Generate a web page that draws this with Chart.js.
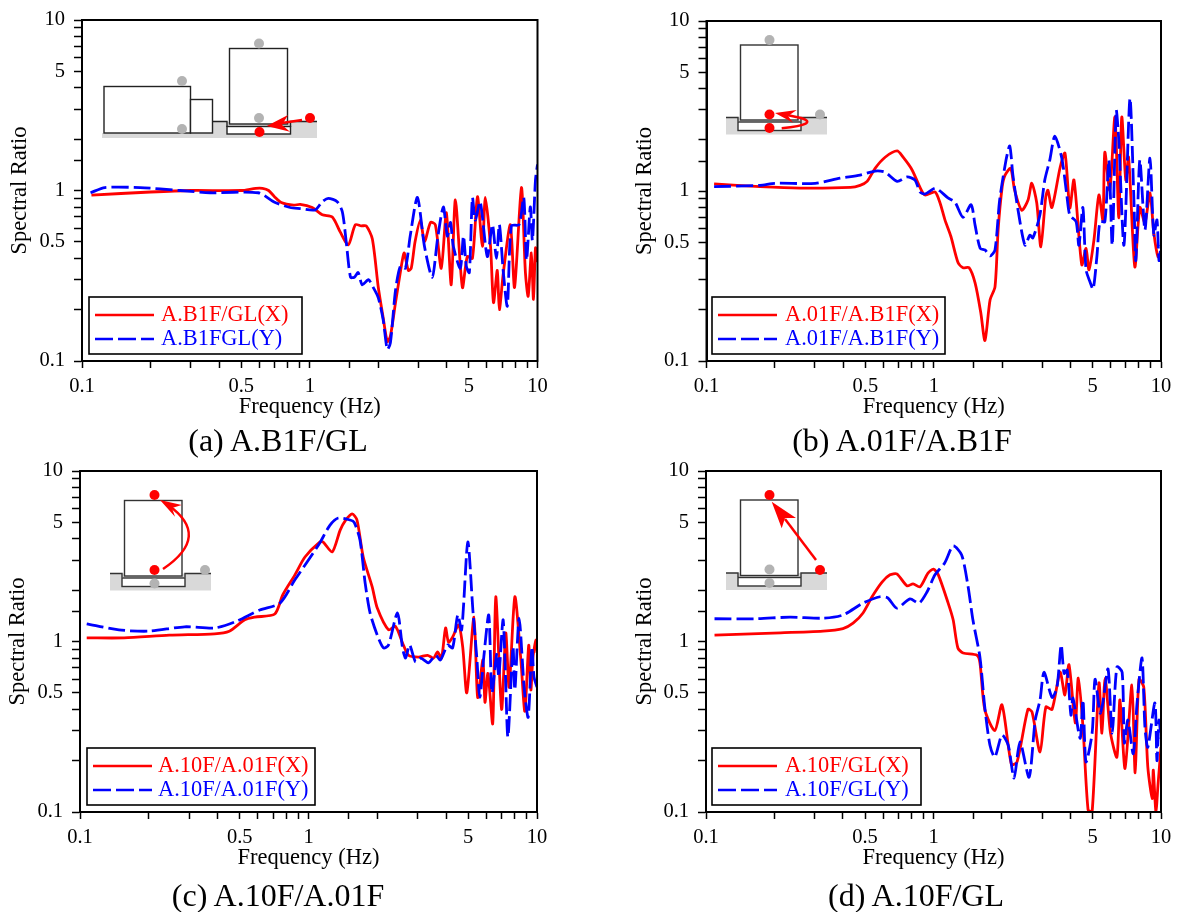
<!DOCTYPE html>
<html>
<head>
<meta charset="utf-8">
<title>Spectral ratios</title>
<script src="https://cdn.jsdelivr.net/npm/chart.js@4/dist/chart.umd.min.js"></script>
<style>
  html, body { margin: 0; padding: 0; background: #fff; }
  #page { position: relative; width: 1177px; height: 912px; overflow: hidden; }
  canvas { position: absolute; }
  .caption { position: absolute; font: 32px 'Liberation Serif', serif; color: #000; white-space: nowrap; transform: translateX(-50%); }
</style>
</head>
<body>
<div id="page">
  <canvas id="chartA" width="588" height="456" style="left:0;top:0"></canvas>
  <canvas id="chartB" width="589" height="456" style="left:588px;top:0"></canvas>
  <canvas id="chartC" width="588" height="456" style="left:0;top:456px"></canvas>
  <canvas id="chartD" width="589" height="456" style="left:588px;top:456px"></canvas>
  <div class="caption" style="left:278px;top:422px">(a) A.B1F/GL</div>
  <div class="caption" style="left:902px;top:422px">(b) A.01F/A.B1F</div>
  <div class="caption" style="left:278px;top:877px">(c) A.10F/A.01F</div>
  <div class="caption" style="left:916px;top:877px">(d) A.10F/GL</div>
</div>
<script>
// [frequency Hz, spectral ratio]
var tickLabels = ['0.1', '0.5', '1', '5', '10'];

var aX = [[.11,.94],[.2,.98],[.3,1],[.5,1],[.58,1.03],[.62,1.03],[.66,1],[.7,.92],[.75,.85],[.85,.82],[.908,.83],[1.025,.795],[1.135,.72],[1.256,.7],[1.362,.57],[1.477,.48],[1.585,.63],[1.684,.62],[1.77,.62],[1.883,.52],[2,.27],[2.1,.18],[2.19,.13],[2.26,.14],[2.38,.22],[2.55,.39],[2.6,.43],[2.71,.34],[2.79,.35],[2.9,.5],[3.06,.67],[3.19,.5],[3.39,.65],[3.56,.63],[3.78,.35],[3.98,.74],[4.18,.28],[4.36,.88],[4.68,.27],[4.92,.41],[5.18,.4],[5.45,.92],[5.73,.47],[5.9,.91],[6.22,.47],[6.41,.22],[6.66,.34],[6.8,.2],[7.08,.33],[7.6,.63],[7.93,.27],[8.5,1.04],[8.85,.33],[9.1,.24],[9.4,.43],[9.6,.23],[9.8,.46],[10,.38]];
var aY = [[.109,.97],[.126,1.04],[.18,1.04],[.27,1],[.365,.97],[.594,.97],[.705,.85],[.82,.795],[.908,.784],[1.057,.77],[1.135,.86],[1.206,.9],[1.32,.86],[1.39,.75],[1.446,.5],[1.51,.31],[1.57,.31],[1.63,.33],[1.7,.28],[1.81,.3],[1.9,.27],[2,.235],[2.1,.175],[2.19,.117],[2.26,.128],[2.38,.26],[2.5,.36],[2.63,.35],[2.76,.54],[2.97,.91],[3.19,.47],[3.45,.31],[3.64,.52],[3.86,.8],[4.02,.54],[4.15,.65],[4.27,.47],[4.58,.35],[4.73,.54],[4.87,.36],[5.02,.33],[5.18,.91],[5.33,.67],[5.6,.86],[6.02,.41],[6.34,.63],[6.6,.4],[6.8,.63],[7.08,.33],[7.37,.21],[7.68,.62],[8.3,.63],[8.7,.91],[8.95,.39],[9.3,.8],[9.5,.51],[9.8,1.16],[10,1.42]];

var bX = [[.108,1.1],[.172,1.06],[.258,1.04],[.43,1.05],[.474,1.08],[.509,1.14],[.552,1.36],[.611,1.58],[.69,1.72],[.733,1.58],[.803,1.33],[.87,1.05],[.915,.947],[1.013,.987],[1.066,.85],[1.12,.676],[1.19,.54],[1.28,.378],[1.345,.354],[1.43,.354],[1.52,.288],[1.61,.193],[1.68,.132],[1.77,.229],[1.86,.273],[1.92,.59],[2,1.055],[2.06,1.24],[2.18,1.36],[2.27,1.01],[2.44,.77],[2.6,.885],[2.7,1.11],[2.84,.85],[2.96,.47],[3.11,.92],[3.18,1.01],[3.31,.8],[3.6,1.38],[3.78,1.67],[3.97,.795],[4.14,1.16],[4.48,.368],[4.68,.46],[4.82,.344],[5.07,.516],[5.33,.947],[5.55,.676],[5.66,1.69],[5.95,1.01],[6.27,2.72],[6.52,.694],[6.72,2.72],[7,1.16],[7.2,1.58],[7.67,.358],[8.07,.8],[8.5,.65],[8.94,.973],[9.3,.567],[9.7,.41],[10,.43]];
var bY = [[.108,1.06],[.172,1.08],[.2,1.11],[.301,1.11],[.387,1.19],[.474,1.24],[.552,1.31],[.611,1.29],[.69,1.14],[.763,1.21],[.827,1.16],[.87,.987],[.915,.96],[1.013,1.04],[1.066,1],[1.155,.91],[1.24,.86],[1.345,.7],[1.46,.83],[1.52,.63],[1.6,.46],[1.68,.45],[1.77,.415],[1.86,.45],[1.95,.885],[2.08,1.52],[2.16,1.84],[2.23,1.24],[2.35,.77],[2.52,.48],[2.65,.55],[2.73,.53],[2.93,.72],[3.08,1.16],[3.24,1.52],[3.41,2.1],[3.66,1.56],[3.85,.947],[3.97,.72],[4.23,.66],[4.35,.48],[4.53,.8],[4.68,.344],[4.88,.29],[5.03,.265],[5.23,.42],[5.39,.66],[5.66,.66],[5.9,1.52],[6.1,.48],[6.35,2.98],[6.52,1.99],[6.87,.48],[7.3,3.5],[7.6,.885],[7.75,.39],[8.07,1.52],[8.5,.59],[8.94,1.56],[9.3,.55],[9.6,.676],[9.8,.39],[10,.48]];

var cX = [[.107,1.05],[.156,1.05],[.246,1.09],[.388,1.11],[.45,1.15],[.526,1.34],[.582,1.39],[.712,1.45],[.772,1.88],[.872,2.46],[.965,3.13],[1.12,3.83],[1.16,3.83],[1.27,3.35],[1.376,4.5],[1.447,5.1],[1.553,5.6],[1.63,5.16],[1.736,3.13],[1.9,2.09],[2,1.57],[2.24,1.17],[2.4,1.23],[2.58,.98],[2.74,.83],[3.03,.81],[3.32,.83],[3.53,.8],[3.67,.87],[3.82,.8],[3.98,1.2],[4.1,.99],[4.27,1.06],[4.54,1.25],[4.73,.93],[4.93,.5],[5.3,1.39],[5.5,.47],[5.8,.78],[5.92,.44],[6.1,.65],[6.4,.33],[6.6,1.83],[7,.4],[7.3,1.12],[7.55,.54],[8,1.83],[8.5,.78],[8.85,.39],[9.2,.95],[9.4,.52],[9.6,.81],[9.9,1.02],[10,.856]];
var cY = [[.107,1.27],[.148,1.17],[.2,1.15],[.287,1.22],[.388,1.2],[.475,1.3],[.612,1.53],[.75,1.68],[.872,2.3],[1.015,3.1],[1.12,3.78],[1.24,4.8],[1.35,5.3],[1.52,5.16],[1.585,5],[1.68,3.94],[1.77,2.2],[1.86,1.47],[2,1.09],[2.13,.916],[2.24,.954],[2.45,1.47],[2.58,.916],[2.66,.8],[2.77,.954],[2.94,.76],[3.1,.8],[3.35,.75],[3.6,.83],[3.78,.78],[4.06,.954],[4.27,.916],[4.5,1.43],[4.68,1.17],[4.98,3.83],[5.24,1.53],[5.45,.81],[5.62,.47],[5.85,.81],[6.15,1.43],[6.35,.5],[6.67,.856],[6.8,.62],[7.1,1.34],[7.25,.75],[7.46,.275],[7.85,.93],[8,.52],[8.35,1.37],[8.8,.52],[9.15,.36],[9.5,.93],[9.7,.62],[10,.54]];

var dX = [[.109,1.09],[.197,1.12],[.327,1.15],[.4,1.19],[.443,1.28],[.49,1.47],[.537,1.83],[.594,2.23],[.644,2.46],[.69,2.49],[.765,2.12],[.813,2.18],[.872,2.09],[.946,2.52],[1,2.66],[1.05,2.46],[1.16,1.68],[1.22,1.34],[1.28,.916],[1.35,.856],[1.553,.83],[1.6,.75],[1.68,.4],[1.86,.3],[2,.425],[2.2,.19],[2.33,.197],[2.6,.4],[2.71,.386],[2.94,.225],[3.12,.413],[3.32,.4],[3.6,.66],[3.78,.486],[3.94,.73],[4.2,.333],[4.33,.61],[4.54,.315],[4.78,.103],[4.98,.1],[5.34,.57],[5.5,.29],[5.68,.61],[6,.29],[6.4,.21],[6.6,.455],[6.95,.18],[7.45,.556],[7.7,.17],[8,.6],[8.4,.54],[8.75,.184],[9.15,.12],[9.25,.176],[9.5,.1],[9.7,.144],[10,.24]];
var dY = [[.109,1.36],[.168,1.36],[.234,1.39],[.327,1.37],[.4,1.43],[.49,1.68],[.582,1.83],[.63,1.8],[.69,1.57],[.788,1.78],[.863,1.68],[.936,1.95],[1.015,2.46],[1.12,2.89],[1.22,3.63],[1.33,3.22],[1.42,2.09],[1.49,1.34],[1.6,.81],[1.68,.413],[1.77,.247],[1.86,.21],[2,.283],[2.13,.247],[2.26,.158],[2.4,.258],[2.63,.16],[2.8,.346],[2.94,.454],[3.06,.66],[3.32,.47],[3.49,.54],[3.64,.954],[3.75,.65],[3.87,.68],[4.02,.37],[4.1,.466],[4.41,.27],[4.54,.454],[4.68,.197],[4.98,.29],[5.13,.6],[5.4,.38],[5.55,.436],[5.85,.69],[6.1,.29],[6.4,.71],[6.75,.66],[6.9,.254],[7.15,.346],[7.55,.22],[7.85,.436],[8.25,.8],[8.5,.315],[8.75,.24],[9.4,.436],[9.6,.2],[9.8,.346],[10,.27]];

var RED = '#ff0000';
var BLUE = '#0000ff';
var GREY = '#b3b3b3';
var GROUND = '#d9d9d9';
var SERIF = "'Liberation Serif', serif";
var X_AXIS_HEIGHT = 60;

function dot(ctx, x, y, color) {
  ctx.fillStyle = color;
  ctx.beginPath();
  ctx.arc(x, y, 5, 0, Math.PI * 2);
  ctx.fill();
}

function poly(ctx, pts, color) {
  ctx.fillStyle = color;
  ctx.beginPath();
  pts.forEach(function (p, i) { if (i) ctx.lineTo(p[0], p[1]); else ctx.moveTo(p[0], p[1]); });
  ctx.closePath();
  ctx.fill();
}

function box(ctx, x0, y0, x1, y1) {
  ctx.fillStyle = '#fff';
  ctx.fillRect(x0, y0, x1 - x0, y1 - y0);
  ctx.strokeRect(x0, y0, x1 - x0, y1 - y0);
}

// ground with sunken basement, shared by the single tower sketches
function tower(ctx, xl, baseTop, top) {
  ctx.fillStyle = GROUND;
  ctx.fillRect(xl, baseTop, 101, 17);
  ctx.strokeStyle = '#333';
  ctx.lineWidth = 1.4;
  box(ctx, xl + 12, baseTop + 4.5, xl + 75, baseTop + 13);
  ctx.beginPath();
  ctx.moveTo(xl, baseTop);
  ctx.lineTo(xl + 12, baseTop);
  ctx.lineTo(xl + 12, baseTop + 4);
  ctx.moveTo(xl + 75, baseTop + 4);
  ctx.lineTo(xl + 75, baseTop);
  ctx.lineTo(xl + 101, baseTop);
  ctx.stroke();
  box(ctx, xl + 14.5, top, xl + 72, baseTop + 2.5);
}

var sketches = {
  a: function (ctx) {
    ctx.fillStyle = GROUND;
    ctx.fillRect(102, 133, 215, 5);
    ctx.fillRect(212, 122, 105, 12);
    ctx.strokeStyle = '#222';
    ctx.lineWidth = 1.4;
    box(ctx, 104, 86.5, 190.5, 133);
    box(ctx, 190.5, 99.5, 212.5, 133);
    box(ctx, 227, 126.5, 290.5, 134);
    ctx.beginPath();
    ctx.moveTo(212.5, 121.5);
    ctx.lineTo(227, 121.5);
    ctx.lineTo(227, 127);
    ctx.moveTo(290.5, 127);
    ctx.lineTo(290.5, 121.5);
    ctx.lineTo(317, 121.5);
    ctx.stroke();
    box(ctx, 229.5, 48.5, 287.5, 124);
    dot(ctx, 182, 81, GREY);
    dot(ctx, 182, 129, GREY);
    dot(ctx, 259, 43.5, GREY);
    dot(ctx, 259, 118, GREY);
    dot(ctx, 259.5, 132, RED);
    dot(ctx, 310, 118, RED);
    ctx.strokeStyle = RED;
    ctx.lineWidth = 2.5;
    ctx.beginPath();
    ctx.moveTo(302, 120);
    ctx.lineTo(275, 124);
    ctx.stroke();
    poly(ctx, [[266.7, 126], [288, 115], [282, 125], [290, 131.7]], RED);
  },
  b: function (ctx) {
    tower(ctx, 726, 117.5, 45);
    dot(ctx, 769.5, 40, GREY);
    dot(ctx, 820, 114.5, GREY);
    dot(ctx, 769.5, 114.5, RED);
    dot(ctx, 769.5, 128, RED);
    ctx.strokeStyle = RED;
    ctx.lineWidth = 2.4;
    ctx.beginPath();
    ctx.moveTo(781.7, 128.3);
    ctx.quadraticCurveTo(820, 124, 801, 118);
    ctx.lineTo(787, 115);
    ctx.stroke();
    poly(ctx, [[775, 113], [796.7, 110], [788, 116], [793, 122.7]], RED);
  },
  c: function (ctx) {
    tower(ctx, 110, 573.5, 500.5);
    dot(ctx, 154.5, 495, RED);
    dot(ctx, 154.5, 570, RED);
    dot(ctx, 154.5, 583.5, GREY);
    dot(ctx, 205, 570, GREY);
    ctx.strokeStyle = RED;
    ctx.lineWidth = 2.5;
    ctx.beginPath();
    ctx.moveTo(163, 569);
    ctx.quadraticCurveTo(212, 536, 168, 505);
    ctx.stroke();
    poly(ctx, [[160, 500], [181.7, 505], [172, 508], [175, 516.7]], RED);
  },
  d: function (ctx) {
    tower(ctx, 726, 573, 500);
    dot(ctx, 769.5, 495, RED);
    dot(ctx, 820, 570, RED);
    dot(ctx, 769.5, 569.5, GREY);
    dot(ctx, 769.5, 583, GREY);
    ctx.strokeStyle = RED;
    ctx.lineWidth = 2.5;
    ctx.beginPath();
    ctx.moveTo(816, 560);
    ctx.lineTo(785, 519);
    ctx.stroke();
    poly(ctx, [[771.7, 501.7], [796, 518], [785, 518], [781.7, 528.3]], RED);
  }
};

// plot frame, building sketch and boxed legend, all over the data
var panelDecor = {
  id: 'panelDecor',
  afterDatasetsDraw: function (chart, args, opts) {
    var ctx = chart.ctx;
    var area = chart.chartArea;
    ctx.save();
    ctx.strokeStyle = '#000';
    ctx.lineWidth = 2;
    ctx.strokeRect(area.left, area.top, area.right - area.left, area.bottom - area.top);
    ctx.translate(-opts.originX, -opts.originY);
    sketches[opts.sketch](ctx);

    var lg = opts.legend;
    ctx.fillStyle = '#fff';
    ctx.strokeStyle = '#000';
    ctx.lineWidth = 1.6;
    ctx.fillRect(lg.x0, lg.y0, lg.x1 - lg.x0, lg.y1 - lg.y0);
    ctx.strokeRect(lg.x0, lg.y0, lg.x1 - lg.x0, lg.y1 - lg.y0);
    ctx.font = '22.4px ' + SERIF;
    ctx.textBaseline = 'middle';
    chart.data.datasets.forEach(function (ds, i) {
      var y = lg.y0 + (i === 0 ? 18 : 42);
      ctx.strokeStyle = ds.borderColor;
      ctx.lineWidth = 2.6;
      ctx.setLineDash(i === 0 ? [] : [18, 5]);
      ctx.beginPath();
      ctx.moveTo(lg.x0 + 6, y);
      ctx.lineTo(lg.x0 + 65, y);
      ctx.stroke();
      ctx.setLineDash([]);
      ctx.fillStyle = ds.borderColor;
      ctx.fillText(ds.label, lg.textX, y);
    });
    ctx.restore();
  }
};

function logTick(v) {
  for (var i = 0; i < tickLabels.length; i++) {
    if (Math.abs(v - Number(tickLabels[i])) < 1e-6) return tickLabels[i];
  }
  return '';
}

function series(label, pairs, color, dash, order) {
  return {
    label: label,
    data: pairs.map(function (p) { return { x: p[0], y: p[1] }; }),
    borderColor: color,
    backgroundColor: color,
    borderWidth: 2.8,
    borderDash: dash,
    pointRadius: 0,
    showLine: true,
    tension: 0.25,
    order: order
  };
}

function makePanel(cfg) {
  var canvas = document.getElementById(cfg.id);
  new Chart(canvas, {
    type: 'scatter',
    data: {
      datasets: [
        series(cfg.labels[0], cfg.x, RED, [], 2),
        series(cfg.labels[1], cfg.y, BLUE, [17, 5], 1)
      ]
    },
    options: {
      responsive: false,
      animation: false,
      layout: {
        padding: {
          left: 0,
          top: cfg.plot.top - cfg.originY,
          right: canvas.width - (cfg.plot.right - cfg.originX),
          bottom: canvas.height - (cfg.plot.bottom - cfg.originY) - X_AXIS_HEIGHT
        }
      },
      plugins: {
        legend: { display: false },
        tooltip: { enabled: false },
        panelDecor: { originX: cfg.originX, originY: cfg.originY, sketch: cfg.sketch, legend: cfg.legend }
      },
      scales: {
        x: {
          type: 'logarithmic',
          min: 0.1,
          max: 10,
          // fixed box sizes: tick label overflow must not move the plot area
          afterFit: function (s) { s.height = X_AXIS_HEIGHT; s.paddingLeft = 0; s.paddingRight = 0; },
          border: { color: '#000', width: 2 },
          grid: { drawOnChartArea: false, tickLength: 7, tickWidth: 1.5, tickColor: '#000' },
          ticks: {
            autoSkip: false, maxRotation: 0, minRotation: 0, padding: 6.5,
            color: '#000', font: { family: SERIF, size: 20.5 }, callback: logTick
          },
          title: {
            display: true, text: 'Frequency (Hz)', color: '#000',
            font: { family: SERIF, size: 22.5 }, padding: { top: 0, bottom: 0 }
          }
        },
        y: {
          type: 'logarithmic',
          min: 0.1,
          max: 10,
          afterFit: function (s) { s.width = cfg.plot.left - cfg.originX; s.paddingTop = 0; s.paddingBottom = 0; },
          border: { color: '#000', width: 2 },
          grid: { drawOnChartArea: false, tickLength: 8, tickWidth: 1.5, tickColor: '#000' },
          ticks: {
            autoSkip: false, padding: 9,
            color: '#000', font: { family: SERIF, size: 20.5 }, callback: logTick
          },
          title: {
            display: true, text: 'Spectral Ratio', color: '#000',
            font: { family: SERIF, size: 22.5 }, padding: { top: cfg.titleX - cfg.originX - 13, bottom: 0 }
          }
        }
      }
    },
    plugins: [panelDecor]
  });
}

makePanel({
  id: 'chartA', sketch: 'a', originX: 0, originY: 0, titleX: 20,
  plot: { left: 82, right: 537.5, top: 20, bottom: 361 },
  legend: { x0: 89, y0: 297, x1: 302, y1: 354, textX: 161 },
  labels: ['A.B1F/GL(X)', 'A.B1FGL(Y)'], x: aX, y: aY
});
makePanel({
  id: 'chartB', sketch: 'b', originX: 588, originY: 0, titleX: 645,
  plot: { left: 706.5, right: 1161, top: 21, bottom: 361 },
  legend: { x0: 712, y0: 297, x1: 945, y1: 354, textX: 785 },
  labels: ['A.01F/A.B1F(X)', 'A.01F/A.B1F(Y)'], x: bX, y: bY
});
makePanel({
  id: 'chartC', sketch: 'c', originX: 0, originY: 456, titleX: 18,
  plot: { left: 80, right: 537, top: 471, bottom: 812 },
  legend: { x0: 87, y0: 748, x1: 315, y1: 805, textX: 158 },
  labels: ['A.10F/A.01F(X)', 'A.10F/A.01F(Y)'], x: cX, y: cY
});
makePanel({
  id: 'chartD', sketch: 'd', originX: 588, originY: 456, titleX: 645,
  plot: { left: 706, right: 1161, top: 471, bottom: 812 },
  legend: { x0: 712, y0: 748, x1: 921, y1: 805, textX: 785 },
  labels: ['A.10F/GL(X)', 'A.10F/GL(Y)'], x: dX, y: dY
});
</script>
</body>
</html>
